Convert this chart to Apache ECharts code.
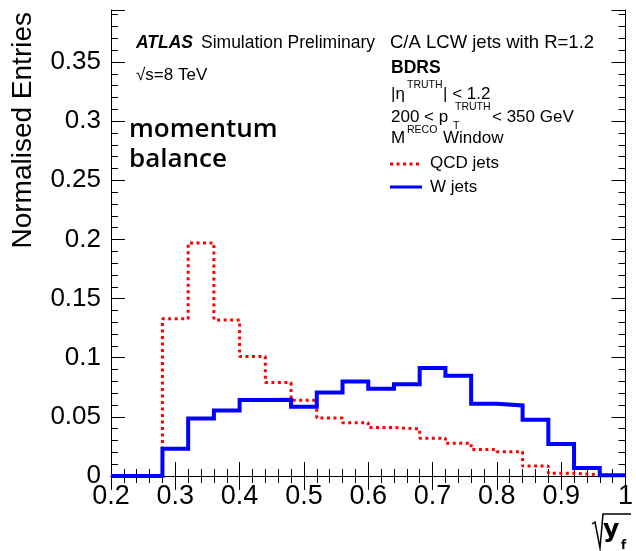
<!DOCTYPE html>
<html>
<head>
<meta charset="utf-8">
<script src="https://cdn.jsdelivr.net/npm/echarts@6/dist/echarts.min.js"></script>
<style>
  html, body { margin: 0; padding: 0; background: #fff; }
  #chart { width: 636px; height: 551px; }
</style>
</head>
<body>
<div id="chart"></div>
<script>
// Histogram binning: lower bin edges of sqrt(y_f), bin width 0.04
const binLowEdges = [0.20, 0.24, 0.28, 0.32, 0.36, 0.40, 0.44, 0.48, 0.52, 0.56,
                     0.60, 0.64, 0.68, 0.72, 0.76, 0.80, 0.84, 0.88, 0.92, 0.96];
const binUpperEdge = 1.0;

// Normalised entries per bin
const qcdJets = [0, 0, 0.133, 0.197, 0.132, 0.101, 0.079, 0.064, 0.049, 0.045,
                 0.041, 0.0397, 0.032, 0.0277, 0.0223, 0.0206, 0.0085, 0.0024, 0.001, 0.0003];
const wJets   = [0, 0, 0.023, 0.0487, 0.0553, 0.0642, 0.0645, 0.0586, 0.0707, 0.080,
                 0.0738, 0.0775, 0.0913, 0.0848, 0.0611, 0.0597, 0.0476, 0.027, 0.0068, 0.0006];

// Axis ranges and tick spacing
const xRange = [0.2, 1.0];
const xStep = 0.1;
const yRange = [0, 0.394];
const yStep = 0.05;

// Step-outline points: each bin's value starts at its lower edge
function stepPoints(values) {
  const pts = binLowEdges.map((e, i) => [e, values[i]]);
  pts.push([binUpperEdge, values[values.length - 1]]);
  return pts;
}

const FONT = '"Liberation Sans", Arial, Helvetica, sans-serif';
const chart = echarts.init(document.getElementById('chart'), null, { renderer: 'canvas' });

const frameAxis = {
  axisLine: { show: true, lineStyle: { color: '#000', width: 1 } },
  axisTick: { show: true, inside: true, length: 14, lineStyle: { color: '#000', width: 1 } },
  minorTick: { show: true, splitNumber: 5, length: 7, lineStyle: { color: '#000', width: 1 } },
  splitLine: { show: false },
  minorSplitLine: { show: false }
};

function txt(x, y, text, size, extra) {
  return {
    type: 'text', x: x, y: y, silent: true,
    style: Object.assign({
      text: text, fill: '#000', font: size + 'px ' + FONT,
      align: 'left', verticalAlign: 'middle'
    }, extra || {})
  };
}

const option = {
  animation: false,
  backgroundColor: '#fff',
  grid: { left: 111, right: 8, top: 10, bottom: 75, containLabel: false },
  xAxis: [
    Object.assign({
      type: 'value', min: xRange[0], max: xRange[1], interval: xStep, position: 'bottom',
      axisLabel: { show: true, fontSize: 27, fontFamily: FONT, color: '#000', margin: 7 }
    }, frameAxis),
    Object.assign({
      type: 'value', min: xRange[0], max: xRange[1], interval: xStep, position: 'top',
      axisLabel: { show: false }
    }, frameAxis)
  ],
  yAxis: [
    Object.assign({
      type: 'value', min: yRange[0], max: yRange[1], interval: yStep, position: 'left',
      axisLabel: { show: true, fontSize: 26, fontFamily: FONT, color: '#000', margin: 10,
                   showMaxLabel: false }
    }, frameAxis),
    Object.assign({
      type: 'value', min: yRange[0], max: yRange[1], interval: yStep, position: 'right',
      axisLabel: { show: false }
    }, frameAxis)
  ],
  series: [
    {
      name: 'QCD jets', type: 'line', step: 'end', symbol: 'none', z: 3,
      data: stepPoints(qcdJets),
      lineStyle: { color: '#ff0000', width: 3, type: [3, 3.5], cap: 'butt' }
    },
    {
      name: 'W jets', type: 'line', step: 'end', symbol: 'none', z: 4,
      data: stepPoints(wJets),
      lineStyle: { color: '#0000ff', width: 4, join: 'miter' }
    }
  ],
  graphic: [
    // y-axis title, right-aligned to the top of the frame
    {
      type: 'text', x: 23, y: 12, rotation: Math.PI / 2, silent: true,
      style: { text: 'Normalised Entries', fill: '#000', font: '28px ' + FONT,
               align: 'right', verticalAlign: 'middle' }
    },
    // x-axis title: sqrt(y_f)
    {
      type: 'polyline', silent: true,
      shape: { points: [[592, 524], [595, 522], [600, 548], [603, 514], [631, 514]] },
      style: { stroke: '#000', lineWidth: 1.5, fill: null }
    },
    txt(603, 530, 'y', 25, { font: 'bold 25px "DejaVu Sans", sans-serif' }),
    txt(621, 546, 'f', 12, { font: 'bold 12px "DejaVu Sans", sans-serif' }),

    // ATLAS labels
    txt(136, 43, 'ATLAS', 17.5, { font: 'italic bold 17.5px ' + FONT }),
    txt(201, 43, 'Simulation Preliminary', 17.5),
    txt(136, 75, '\u221As=8 TeV', 17),

    // Selection description
    txt(390, 43, 'C/A LCW jets with R=1.2', 18.5),
    txt(391, 68, 'BDRS', 17.5, { font: 'bold 17.5px ' + FONT }),
    txt(391, 94, '|\u03B7', 17),
    txt(407, 85, 'TRUTH', 10.5),
    txt(443, 94, '| < 1.2', 17),
    txt(391, 117, '200 < p', 17),
    txt(455, 107, 'TRUTH', 10.5),
    txt(453, 126, 'T', 10.5),
    txt(492, 117, '< 350 GeV', 17),
    txt(391, 138, 'M', 17),
    txt(407, 130, 'RECO', 10.5),
    txt(443, 138, 'Window', 17),

    // Legend
    {
      type: 'line', silent: true,
      shape: { x1: 390, y1: 164, x2: 422, y2: 164 },
      style: { stroke: '#ff0000', lineWidth: 3, lineDash: [3, 3.5] }
    },
    txt(430, 163, 'QCD jets', 17),
    {
      type: 'line', silent: true,
      shape: { x1: 390, y1: 187, x2: 422, y2: 187 },
      style: { stroke: '#0000ff', lineWidth: 3 }
    },
    txt(430, 187, 'W jets', 17),

    // Variable name
    txt(129, 130, 'momentum', 26, { font: '600 26px "Open Sans", sans-serif' }),
    txt(129, 160, 'balance', 26, { font: '600 26px "Open Sans", sans-serif' })
  ]
};

chart.setOption(option);
</script>
</body>
</html>
